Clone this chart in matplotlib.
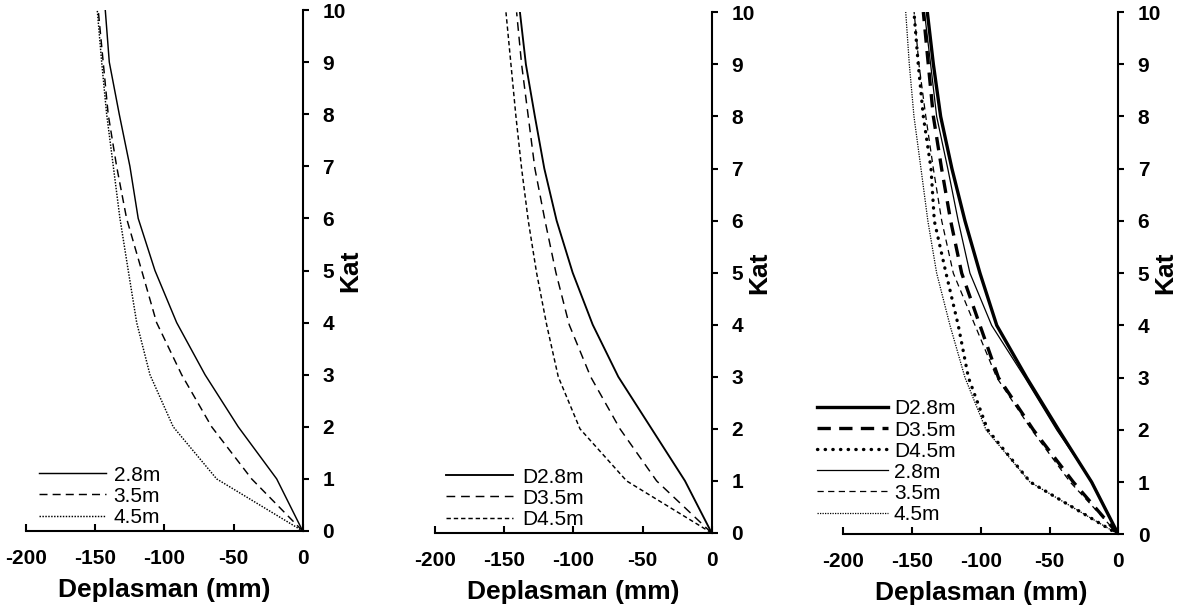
import matplotlib
matplotlib.use("Agg")
import matplotlib.pyplot as plt

plt.rcParams['font.family'] = ['Liberation Sans', 'DejaVu Sans']

# ---------------- data ----------------
floors = [0, 1, 2, 3, 4, 5, 6, 7, 8, 9, 10]
xticks = [-200, -150, -100, -50, 0]
yticks = [0, 1, 2, 3, 4, 5, 6, 7, 8, 9, 10]

# panel 1 (plain)
p1_28 = [0, -18.8, -46.6, -70.6, -91.1, -106.8, -118.9, -124.9, -132.6, -139.8, -142.7]
p1_35 = [0, -36.9, -65.8, -87.5, -105.6, -116.4, -127.3, -134.5, -140.6, -144.2, -147.8]
p1_45 = [0, -62.2, -93.6, -110.4, -120.0, -126.1, -132.1, -136.9, -141.7, -145.3, -148.5]

# panel 2 (D)
p2_D28 = [0, -19.3, -43.4, -67.5, -86.0, -100.5, -112.1, -121.0, -127.8, -134.3, -138.6]
p2_D35 = [0, -39.8, -66.3, -87.5, -103.0, -112.6, -120.5, -127.8, -132.6, -137.4, -141.0]
p2_D45 = [0, -61.5, -95.2, -110.9, -119.3, -126.6, -132.6, -137.4, -141.5, -145.1, -148.7]

# panel 3 (comparison)
p3_D28 = [0, -19.4, -43.4, -66.7, -88.4, -100.6, -111.5, -121.0, -129.2, -134.5, -138.9]
p3_D35 = [0, -32.7, -61.8, -87.2, -100.6, -113.9, -121.9, -128.5, -134.5, -138.2, -141.8]
p3_D45 = [0, -64.0, -95.0, -109.0, -116.4, -125.3, -133.8, -136.2, -141.8, -145.5, -148.6]
p3_28 = [0, -19.0, -44.8, -67.9, -92.1, -107.9, -116.4, -124.0, -132.1, -136.5, -141.0]
p3_35 = [0, -35.0, -63.0, -88.4, -104.2, -120.0, -128.4, -134.5, -140.0, -145.0, -148.5]
p3_45 = [0, -64.2, -96.2, -111.5, -122.4, -132.1, -138.5, -143.5, -148.6, -152.0, -154.6]

W, H = 1186, 608
fig = plt.figure(figsize=(W / 100, H / 100), dpi=100)


def make_ax(left_px, right_px, bottom_px, top_px):
    ax = fig.add_axes([left_px / W, 1 - bottom_px / H,
                       (right_px - left_px) / W, (bottom_px - top_px) / H])
    ax.set_xlim(-200, 0)
    ax.set_ylim(0, 10)
    ax.spines['left'].set_visible(False)
    ax.spines['top'].set_visible(False)
    ax.spines['bottom'].set_linewidth(1.5)
    ax.spines['right'].set_linewidth(1.5)
    ax.yaxis.tick_right()
    ax.yaxis.set_label_position('right')
    ax.set_xticks(xticks)
    ax.set_yticks(yticks)
    ax.set_xticklabels([str(v) for v in xticks], fontweight='bold', fontsize=15)
    ax.set_yticklabels([str(v) for v in yticks], fontweight='bold', fontsize=15)
    ax.tick_params(axis='x', direction='in', length=5, width=1.5, pad=13)
    ax.tick_params(axis='y', direction='out', length=4.5, width=1.5, pad=9.5)
    ax.set_xlabel('Deplasman (mm)', fontsize=19, fontweight='bold', va='baseline')
    ax.xaxis.set_label_coords(0.5, -0.126)
    ax.set_ylabel('Kat', fontsize=19, fontweight='bold')
    ax.yaxis.set_label_coords(1.128, 0.5)
    ax.patch.set_alpha(0)
    return ax


leg_kw = dict(loc='lower left', frameon=False, fontsize=15,
              labelspacing=0.1, borderpad=0, borderaxespad=0.0)

# ---------- panel 1 ----------
ax1 = make_ax(26, 302.7, 531, 10)
ax1.plot(p1_28, floors, color='black', lw=1.05, label='2.8m')
ax1.plot(p1_35, floors, color='black', lw=1.05, dashes=(5.5, 3.5), label='3.5m')
ax1.plot(p1_45, floors, color='black', lw=1.05, dashes=(1, 1), label='4.5m')
ax1.legend(bbox_to_anchor=(0.047, 0.008), handlelength=3.2,
           handletextpad=0.38, **leg_kw)

# ---------- panel 2 ----------
ax2 = make_ax(435, 711.7, 533, 12.3)
ax2.plot(p2_D28, floors, color='black', lw=1.35, label='D2.8m')
ax2.plot(p2_D35, floors, color='black', lw=1.05, dashes=(6, 4), label='D3.5m')
ax2.plot(p2_D45, floors, color='black', lw=1.05, dashes=(3, 2), label='D4.5m')
ax2.legend(bbox_to_anchor=(0.04, 0.008), handlelength=3.2,
           handletextpad=0.45, **leg_kw)

# ---------- panel 3 ----------
ax3 = make_ax(843.3, 1118.3, 534.3, 12)
ax3.plot(p3_D28, floors, color='black', lw=2.4, label='D2.8m')
ax3.plot(p3_D35, floors, color='black', lw=2.4, dashes=(4, 2.5), label='D3.5m')
ax3.plot(p3_D45, floors, color='black', lw=2.4, dashes=(0.1, 2.2),
         dash_capstyle='round', label='D4.5m')
ax3.plot(p3_28, floors, color='black', lw=0.9, label='2.8m')
ax3.plot(p3_35, floors, color='black', lw=0.9, dashes=(5, 3.5), label='3.5m')
ax3.plot(p3_45, floors, color='black', lw=0.9, dashes=(1, 1), label='4.5m')
ax3.legend(bbox_to_anchor=(-0.095, 0.02), handlelength=3.4,
           handletextpad=0.28, **leg_kw)

fig.savefig('out.png', dpi=100)
